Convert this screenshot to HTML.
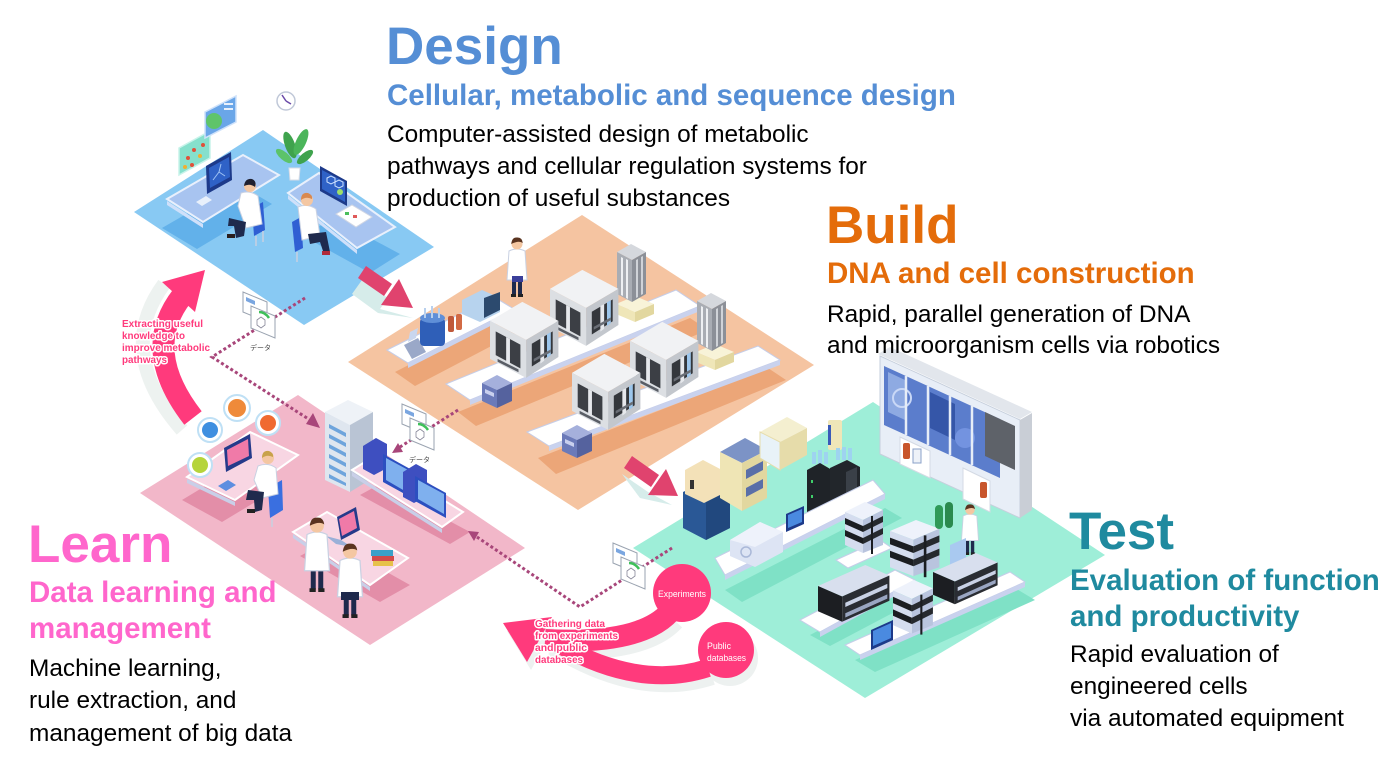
<!DOCTYPE html>
<html><head><meta charset="utf-8">
<style>
html,body{margin:0;padding:0;background:#fff;}
svg{display:block;}
text{font-family:"Liberation Sans",Arial,"Noto Sans CJK JP",sans-serif;}
.lbl{font-weight:bold;fill:#ff3a7c;stroke:#fff;stroke-width:3px;paint-order:stroke;stroke-linejoin:round;}
</style></head><body>
<svg width="1400" height="769" viewBox="0 0 1400 769" xmlns="http://www.w3.org/2000/svg">
<defs>
 <g id="robot">
  <polygon points="0,22 34,2 72,22 38,42" fill="#f1f2f4"/>
  <polygon points="0,22 38,42 38,82 0,62" fill="#dcdfe3"/>
  <polygon points="38,42 72,22 72,60 38,82" fill="#c3c7cd"/>
  <polygon points="6,33 32,47 32,72 6,58" fill="#3c3f45"/>
  <polygon points="44,46 66,33 66,56 44,70" fill="#34373c"/>
  <polygon points="17,39 21,41 21,68 17,66" fill="#e6e8ec"/>
  <polygon points="53,40 57,38 57,64 53,67" fill="#e6e8ec"/>
  <polygon points="60,36 64,34 64,58 60,61" fill="#9cc6ec"/>
  <polygon points="8,62 30,73 30,76 8,65" fill="#5a5e66"/>
  <polygon points="46,62 64,52 64,55 46,65" fill="#6a6e76"/>
 </g>
 <g id="tower">
  <polygon points="0,8 14,0 29,8 15,16" fill="#d5d8dd"/>
  <polygon points="0,8 15,16 15,58 0,50" fill="#a9adb4"/>
  <polygon points="15,16 29,8 29,50 15,58" fill="#8c9098"/>
  <polygon points="4,13 6,14 6,52 4,51" fill="#eef0f3"/>
  <polygon points="9,15 11,16 11,55 9,54" fill="#eef0f3"/>
  <polygon points="19,16 21,15 21,53 19,54" fill="#d0d3d8"/>
  <polygon points="24,13 26,12 26,50 24,51" fill="#d0d3d8"/>
 </g>
 <g id="cream">
  <polygon points="0,8 19,0 38,8 19,16" fill="#f8f3d8"/>
  <polygon points="0,8 19,16 19,26 0,18" fill="#efe6b8"/>
  <polygon points="19,16 38,8 38,18 19,26" fill="#e2d79f"/>
 </g>
 <g id="bbox">
  <polygon points="0,8 15,0 30,8 15,15" fill="#a5b0dc"/>
  <polygon points="0,8 15,15 15,33 0,26" fill="#6b7ab9"/>
  <polygon points="15,15 30,8 30,26 15,33" fill="#55629e"/>
  <polygon points="3,14 12,18 12,22 3,18" fill="#c9d0ee"/>
 </g>
 <g id="person">
  <rect x="-5" y="40" width="4" height="18" fill="#1f2a4d"/>
  <rect x="1" y="40" width="4" height="18" fill="#1f2a4d"/>
  <rect x="-6" y="57" width="5" height="3" fill="#222"/>
  <rect x="1" y="57" width="5" height="3" fill="#222"/>
  <path d="M-8,14 Q0,10 8,14 L10,43 L-10,43 Z" fill="#fff" stroke="#c9d1e2" stroke-width="1"/>
  <circle cx="0" cy="7" r="5.5" fill="#f4c7a2"/>
  <path d="M-5.8,7 Q-5,0 0,0.5 Q5,0 5.8,6 Q2,3 -5.8,7Z" fill="#5a3420"/>
 </g>
 <g id="doc">
  <polygon points="0,0 24,10 24,30 0,20" fill="#fff" stroke="#9aa3b0" stroke-width="1"/>
  <polygon points="3,5 12,9 12,13 3,9" fill="#7aa6e0"/>
  <polygon points="8,14 32,24 32,46 8,36" fill="#fff" stroke="#9aa3b0" stroke-width="1"/>
  <path d="M16,20 Q22,20 26,26" stroke="#3fbf5a" stroke-width="2.5" fill="none"/>
  <path d="M14,28 l4,-3 l4,3 l0,5 l-4,3 l-4,-3 z" stroke="#889" stroke-width="0.8" fill="none"/>
 </g>
 <g id="instr">
  <polygon points="0,10 20,0 38,8 18,18" fill="#eef2fb"/>
  <polygon points="0,10 18,18 18,51 0,43" fill="#d5ddef"/>
  <polygon points="18,18 38,8 38,43 18,51" fill="#b9c4de"/>
  <polygon points="0,16 18,24 18,30 0,22" fill="#1b1d21"/>
  <polygon points="0,28 18,36 18,42 0,34" fill="#1b1d21"/>
  <polygon points="18,24 38,14 38,20 18,30" fill="#26292e"/>
  <polygon points="18,36 38,26 38,32 18,42" fill="#26292e"/>
  <rect x="26" y="14" width="2" height="38" fill="#1b1d21"/>
 </g>
 <g id="hplc">
  <polygon points="0,20 45,0 68,10 23,30" fill="#d8dfee"/>
  <polygon points="0,20 23,30 23,54 0,44" fill="#1c1e22"/>
  <polygon points="23,30 68,10 68,34 23,54" fill="#2a2d33"/>
  <polygon points="26,36 66,18 66,22 26,40" fill="#c9d2e6"/>
  <polygon points="26,46 66,28 66,32 26,50" fill="#9aa6c2"/>
 </g>
</defs>

<!-- ================= BLUE (Design) PLATFORM ================= -->
<polygon points="134,212 263,130 434,247 304,325" fill="#88c9f3"/>
<polygon points="162,228 238,184 272,204 197,249" fill="#62b1ea"/>
<polygon points="303,236 333,218 400,254 370,273" fill="#62b1ea"/>
<polygon points="179,148 210,131 210,158 179,175" fill="#86e0cc" stroke="#c8f3ea" stroke-width="1.5"/>
<circle cx="188" cy="158" r="2" fill="#e0503a"/><circle cx="194" cy="150" r="2" fill="#e0503a"/>
<circle cx="200" cy="156" r="2" fill="#f0b030"/><circle cx="192" cy="165" r="2" fill="#e0503a"/>
<circle cx="203" cy="145" r="2" fill="#e0503a"/><circle cx="185" cy="167" r="2" fill="#f0b030"/>
<polygon points="205,112 236,96 236,122 205,138" fill="#6aa6e8" stroke="#cfe2fa" stroke-width="1.5"/>
<circle cx="214" cy="121" r="8" fill="#5fc46a"/>
<rect x="224" y="103" width="9" height="2" fill="#e8f0fb"/><rect x="224" y="108" width="9" height="2" fill="#e8f0fb"/>
<circle cx="286" cy="101" r="9" fill="#fff" stroke="#c0c8d8" stroke-width="1.5"/>
<path d="M286,101 L282,95 M286,101 L291,104" stroke="#6a4aa8" stroke-width="1.5"/>
<ellipse cx="290" cy="145" rx="5" ry="14" fill="#3fa34d" transform="rotate(-20 290 145)"/>
<ellipse cx="301" cy="142" rx="5" ry="14" fill="#4bb55a" transform="rotate(25 301 142)"/>
<ellipse cx="284" cy="156" rx="4" ry="10" fill="#5cc36a" transform="rotate(-50 284 156)"/>
<ellipse cx="305" cy="157" rx="4" ry="10" fill="#3fa34d" transform="rotate(50 305 157)"/>
<polygon points="289,168 300,168 299,180 290,180" fill="#fff" stroke="#d8dce6"/>
<polygon points="167,199 243,155 279,175 203,222" fill="#a8c4f0" stroke="#e9f0fc" stroke-width="2"/>
<polygon points="167,201 203,224 203,228 167,205" fill="#cfe0fa"/>
<polygon points="206,166 231,152 232,180 207,194" fill="#1d3a8a"/>
<polygon points="209,168 229,157 230,177 210,188" fill="#2f62c7"/>
<path d="M213,180 l6,-8 l6,4 M219,172 l2,-8" stroke="#9fc3f5" stroke-width="1" fill="none"/>
<polygon points="196,202 206,196 212,200 202,206" fill="#e8f0fb"/>
<polygon points="252,208 263,202 265,230 254,236" fill="#2f5fd3"/>
<line x1="256" y1="236" x2="256" y2="246" stroke="#c8d0e0" stroke-width="1.5"/>
<line x1="263" y1="231" x2="263" y2="242" stroke="#c8d0e0" stroke-width="1.5"/>
<path d="M241,193 Q250,190 258,196 L262,224 L246,228 L238,206 Z" fill="#fff" stroke="#c9d1e2"/>
<polygon points="229,218 246,222 244,236 236,238 234,226 228,226" fill="#1f2a4d"/>
<rect x="227" y="234" width="8" height="4" fill="#2a1e1e"/>
<circle cx="250" cy="186" r="6" fill="#f4c7a2"/>
<path d="M244,186 Q245,178 252,179 Q257,181 255,187 Q250,183 244,186Z" fill="#1f2030"/>
<polygon points="288,193 319,173 395,227 357,248" fill="#a8c4f0" stroke="#e9f0fc" stroke-width="2"/>
<polygon points="288,195 357,250 357,254 288,199" fill="#cfe0fa"/>
<polygon points="320,166 347,181 347,206 320,191" fill="#1d3a8a"/>
<polygon points="322,170 345,182 345,202 322,189" fill="#2f62c7"/>
<path d="M327,178 l4,-2 l4,2 l0,4 l-4,2 l-4,-2z M335,182 l4,-2 l4,2 l0,4 l-4,2 l-4,-2z" stroke="#cfe2ff" stroke-width="1" fill="none"/>
<circle cx="340" cy="192" r="3" fill="#9ddf6a"/>
<polygon points="336,214 352,205 372,217 356,227" fill="#fff" stroke="#d0d6e4"/>
<rect x="345" y="212" width="4" height="3" fill="#4cbf5c"/><rect x="353" y="215" width="4" height="3" fill="#e05a5a"/>
<polygon points="292,222 301,217 303,248 295,252" fill="#2f5fd3"/>
<line x1="297" y1="252" x2="297" y2="262" stroke="#c8d0e0" stroke-width="1.5"/>
<path d="M298,207 Q307,203 316,209 L320,236 L302,240 Z" fill="#fff" stroke="#c9d1e2"/>
<polygon points="308,234 326,232 330,252 324,254 320,242 310,244" fill="#1f2a4d"/>
<rect x="322" y="251" width="8" height="4" fill="#b02a3a"/>
<circle cx="307" cy="200" r="6" fill="#f4c7a2"/>
<path d="M301,200 Q301,192 308,193 Q313,195 312,199 Q306,196 301,200Z" fill="#d9894f"/>

<!-- ================= ORANGE (Build) PLATFORM ================= -->
<polygon points="348,362 582,215 814,365 578,510" fill="#f5c4a1"/>
<polygon points="395,372 500,318 522,330 415,386" fill="#eca678"/>
<polygon points="458,412 690,318 708,330 476,426" fill="#eca678"/>
<polygon points="538,458 768,368 786,380 556,474" fill="#eca678"/>
<polygon points="387,350 494,297 514,309 408,363" fill="#fff" stroke="#c5cde8"/>
<polygon points="408,363 514,309 514,314 408,368" fill="#c9d2ee"/>
<polygon points="404,345 418,338 426,352 412,359" fill="#9aa8c8"/>
<polygon points="408,342 416,338 418,328 410,332" fill="#c9d6ee"/>
<rect x="420" y="318" width="25" height="28" rx="4" fill="#2f5fb8"/>
<ellipse cx="432.5" cy="318" rx="12.5" ry="5" fill="#5f8fd8"/>
<rect x="424" y="308" width="2" height="10" fill="#b8d0ee"/><rect x="431" y="306" width="2" height="12" fill="#b8d0ee"/><rect x="438" y="308" width="2" height="10" fill="#b8d0ee"/>
<rect x="448" y="316" width="6" height="16" rx="2" fill="#c0593a"/>
<rect x="456" y="314" width="6" height="16" rx="2" fill="#d26a44"/>
<polygon points="462,300 482,290 500,298 500,312 480,322 462,314" fill="#b7d3ee"/>
<polygon points="484,298 500,292 500,310 484,318" fill="#2c4a6e"/>
<polygon points="446,384 676,290 700,306 470,400" fill="#fff" stroke="#c5cde8"/>
<polygon points="470,400 700,306 700,311 470,405" fill="#c9d2ee"/>
<use href="#cream" x="616" y="296"/>
<use href="#tower" x="617" y="244"/>
<use href="#robot" transform="translate(550,268) scale(0.95)"/>
<use href="#robot" transform="translate(490,300) scale(0.95)"/>
<use href="#bbox" x="482" y="375"/>
<use href="#person" transform="translate(517,237)"/>
<rect x="512" y="276" width="11" height="6" fill="#3a3f9a"/>
<polygon points="527,432 758,346 780,360 549,446" fill="#fff" stroke="#c5cde8"/>
<polygon points="549,446 780,360 780,365 549,451" fill="#c9d2ee"/>
<use href="#cream" x="696" y="344"/>
<use href="#tower" x="697" y="293"/>
<use href="#robot" transform="translate(630,320) scale(0.95)"/>
<use href="#robot" transform="translate(572,352) scale(0.95)"/>
<use href="#bbox" x="562" y="425"/>

<!-- ================= PINK (Learn) PLATFORM ================= -->
<polygon points="140,493 298,395 525,548 370,645" fill="#f2b7c9"/>
<polygon points="182,500 240,465 280,487 222,522" fill="#e38ea8"/>
<polygon points="360,495 380,484 470,532 450,544" fill="#e38ea8"/>
<polygon points="300,556 330,540 410,585 380,602" fill="#e38ea8"/>
<polygon points="187,477 250,432 298,455 235,500" fill="#f8d6e3" stroke="#fff" stroke-width="2"/>
<polygon points="187,479 235,502 235,506 187,483" fill="#c9cfe8"/>
<polygon points="224,448 250,434 252,458 226,472" fill="#253a8a"/>
<polygon points="227,450 248,439 249,456 228,466" fill="#f07aa8"/>
<polygon points="218,486 228,480 236,485 226,491" fill="#5d8ee0"/>
<polygon points="268,488 282,480 283,510 270,518" fill="#3a6fe0"/>
<line x1="272" y1="518" x2="272" y2="527" stroke="#c8d0e0" stroke-width="1.5"/>
<path d="M258,466 Q268,462 276,468 L278,494 L262,498 L254,480 Z" fill="#fff" stroke="#c9d1e2"/>
<polygon points="248,490 264,492 262,510 255,512 254,500 246,500" fill="#1f2a4d"/>
<rect x="247" y="509" width="8" height="4" fill="#222"/>
<circle cx="268" cy="458" r="6" fill="#f4c7a2"/>
<path d="M262,458 Q262,450 269,451 Q274,453 273,457 Q267,454 262,458Z" fill="#c8a24a"/>
<circle cx="210" cy="430" r="12" fill="#fff" stroke="#bfe0f5" stroke-width="2"/><circle cx="210" cy="430" r="8" fill="#3f8fe0"/>
<circle cx="237" cy="408" r="13" fill="#fff" stroke="#bfe0f5" stroke-width="2"/><circle cx="237" cy="408" r="9" fill="#ef8a3a"/>
<circle cx="268" cy="423" r="12" fill="#fff" stroke="#bfe0f5" stroke-width="2"/><circle cx="268" cy="423" r="8" fill="#f06a30"/>
<circle cx="200" cy="465" r="12" fill="#fff" stroke="#bfe0f5" stroke-width="2"/><circle cx="200" cy="465" r="8" fill="#b6d43a"/>
<polygon points="325,412 348,400 373,412 350,425" fill="#eef2f7"/>
<polygon points="325,412 350,425 350,492 325,480" fill="#dfe6ef"/>
<polygon points="350,425 373,412 373,478 350,492" fill="#b9c4d4"/>
<polygon points="329,424 346,433 346,437 329,428" fill="#6ea4dc"/>
<polygon points="329,434 346,443 346,447 329,438" fill="#6ea4dc"/>
<polygon points="329,444 346,453 346,457 329,448" fill="#6ea4dc"/>
<polygon points="329,454 346,463 346,467 329,458" fill="#6ea4dc"/>
<polygon points="329,464 346,473 346,477 329,468" fill="#6ea4dc"/>
<polygon points="329,474 346,483 346,486 329,478" fill="#6ea4dc"/>
<polygon points="352,470 373,457 463,512 442,527" fill="#f8d6e3" stroke="#fff" stroke-width="2"/>
<polygon points="352,472 442,529 442,533 352,476" fill="#c9cfe8"/>
<polygon points="363,446 376,438 387,444 387,468 374,475 363,469" fill="#3e4fc0"/>
<polygon points="383,454 412,470 412,498 383,482" fill="#2c4fc0"/>
<polygon points="386,458 410,471 410,494 386,480" fill="#7fb0ee"/>
<polygon points="403,472 416,464 427,470 427,496 414,503 403,497" fill="#3e4fc0"/>
<polygon points="415,476 446,493 446,518 415,501" fill="#2c4fc0"/>
<polygon points="418,480 444,494 444,514 418,499" fill="#7fb0ee"/>
<polygon points="293,532 327,512 408,558 370,585" fill="#f8d6e3" stroke="#fff" stroke-width="2"/>
<polygon points="293,534 370,587 370,591 293,538" fill="#c9cfe8"/>
<polygon points="337,517 356,507 360,530 341,540" fill="#253a8a"/>
<polygon points="339,519 354,511 357,528 342,536" fill="#f07aa8"/>
<polygon points="326,536 341,540 352,547 336,544" fill="#9ab0d8"/>
<rect x="372" y="556" width="22" height="5" fill="#d24a4a"/>
<rect x="371" y="550" width="22" height="6" fill="#3aa0c8"/>
<rect x="373" y="561" width="20" height="5" fill="#e6c14a"/>
<use href="#person" transform="translate(317,517) scale(1.25)"/>
<use href="#person" transform="translate(350,543) scale(1.25)"/>
<rect x="341" y="592" width="18" height="8" fill="#1f2a4d"/>

<!-- ================= TEAL (Test) PLATFORM ================= -->
<polygon points="633,548 873,402 1105,555 865,698" fill="#9eeed8"/>
<polygon points="725,590 885,508 902,518 742,602" fill="#7fe1c6"/>
<polygon points="810,635 905,585 925,596 830,646" fill="#7fe1c6"/>
<polygon points="855,660 1015,588 1035,600 875,672" fill="#7fe1c6"/>
<polygon points="878,354 890,347 1032,412 1020,419" fill="#e2e6ec"/>
<polygon points="880,356 1020,420 1020,518 880,454" fill="#e8eef7" stroke="#c6cfdc"/>
<polygon points="1020,420 1032,413 1032,510 1020,518" fill="#c9ced6"/>
<polygon points="884,366 1000,419 1000,478 884,425" fill="#5b7dcc"/>
<polygon points="888,372 905,380 905,420 888,412" fill="#8eaae2"/>
<circle cx="902" cy="398" r="9" fill="none" stroke="#c9d8f6" stroke-width="2"/>
<polygon points="930,392 955,404 955,440 930,428" fill="#3556a8"/>
<circle cx="965" cy="438" r="10" fill="#7393e0"/>
<polygon points="985,412 1015,426 1015,470 985,456" fill="#5e6269"/>
<line x1="906" y1="376" x2="906" y2="435" stroke="#e6edf7" stroke-width="2.5"/>
<line x1="928" y1="386" x2="928" y2="445" stroke="#e6edf7" stroke-width="2.5"/>
<line x1="950" y1="396" x2="950" y2="455" stroke="#e6edf7" stroke-width="2.5"/>
<line x1="972" y1="406" x2="972" y2="465" stroke="#e6edf7" stroke-width="2.5"/>
<polygon points="900,437 930,451 930,478 900,464" fill="#fff" stroke="#d4dae4"/>
<rect x="903" y="443" width="7" height="16" rx="2" fill="#c8552b"/>
<rect x="913" y="449" width="8" height="14" fill="#eef2f8" stroke="#8aa0c8"/>
<polygon points="963,468 990,481 990,512 963,499" fill="#fff" stroke="#d4dae4"/>
<rect x="980" y="482" width="7" height="16" rx="2" fill="#c8552b"/>
<polygon points="683,492 706,481 730,492 730,528 706,540 683,528" fill="#2a5896"/>
<polygon points="706,481 730,492 730,528 706,540" fill="#21487e"/>
<polygon points="685,470 703,460 722,470 722,494 704,503 685,494" fill="#f3e1b8"/>
<rect x="690" y="480" width="4" height="9" fill="#333"/>
<polygon points="720,452 745,438 767,450 742,463" fill="#7c93c6"/>
<polygon points="720,452 742,463 742,511 720,498" fill="#efe5b5"/>
<polygon points="742,463 767,450 767,498 742,511" fill="#e2d79f"/>
<polygon points="746,470 763,461 763,470 746,479" fill="#5a6fa8"/>
<polygon points="746,488 763,479 763,488 746,497" fill="#5a6fa8"/>
<polygon points="760,432 787,417 807,428 780,442" fill="#f4efd0"/>
<polygon points="760,432 780,442 780,470 760,458" fill="#e8f2f8" stroke="#e6dcaa"/>
<polygon points="780,442 807,428 807,455 780,470" fill="#e6dcaa"/>
<rect x="828" y="420" width="14" height="30" rx="2" fill="#efe6b8"/>
<rect x="828" y="425" width="3" height="20" fill="#3a5ab8"/>
<rect x="812" y="452" width="4" height="12" fill="#9ed3f0"/><rect x="818" y="450" width="4" height="14" fill="#9ed3f0"/><rect x="824" y="452" width="4" height="12" fill="#9ed3f0"/>
<polygon points="807,470 820,463 832,470 832,516 820,523 807,516" fill="#1f2328"/>
<rect x="811" y="480" width="2" height="3" fill="#3fcf6a"/><rect x="811" y="495" width="2" height="3" fill="#3fcf6a"/>
<rect x="836" y="448" width="4" height="12" fill="#9ed3f0"/><rect x="842" y="447" width="4" height="13" fill="#9ed3f0"/><rect x="848" y="448" width="4" height="12" fill="#9ed3f0"/>
<polygon points="830,468 847,460 860,467 860,500 845,507 830,500" fill="#22262b"/>
<polygon points="846,472 857,467 857,490 846,496" fill="#3a4048"/>
<polygon points="715,558 873,480 885,494 725,575" fill="#fff" stroke="#c5cde8"/>
<polygon points="725,575 885,494 885,499 725,580" fill="#c9d2ee"/>
<polygon points="730,540 760,522 783,532 783,552 755,567 730,556" fill="#dde4f4"/>
<polygon points="730,540 760,522 783,532 755,547" fill="#eef2fb"/>
<circle cx="746" cy="552" r="5" fill="none" stroke="#aab8d8" stroke-width="1.5"/>
<polygon points="786,514 804,506 804,524 786,532" fill="#1d3a8a"/>
<polygon points="788,515 802,509 802,522 788,528" fill="#4a8ae0"/>
<polygon points="836,560 880,540 892,548 848,568" fill="#fff" stroke="#c5cde8"/>
<use href="#instr" x="845" y="502"/>
<polygon points="800,620 895,570 915,580 820,632" fill="#fff" stroke="#c5cde8"/>
<polygon points="820,632 915,580 915,585 820,637" fill="#c9d2ee"/>
<use href="#instr" transform="translate(890,520) scale(1.3,1.1)"/>
<use href="#hplc" transform="translate(818,565) scale(1.05)"/>
<polygon points="845,645 1010,572 1025,582 860,655" fill="#fff" stroke="#c5cde8"/>
<polygon points="860,655 1025,582 1025,587 860,660" fill="#c9d2ee"/>
<rect x="935" y="505" width="8" height="24" rx="4" fill="#2f9a58"/>
<rect x="945" y="502" width="8" height="26" rx="4" fill="#2a8a4e"/>
<use href="#person" transform="translate(970,504) scale(0.85)"/>
<polygon points="950,545 966,538 966,560 950,567" fill="#a9c9f0"/>
<use href="#hplc" transform="translate(933,553) scale(0.95)"/>
<use href="#instr" transform="translate(893,580) scale(1.05)"/>
<polygon points="871,630 893,620 893,640 871,650" fill="#1d3a8a"/>
<polygon points="873,631 891,623 891,638 873,646" fill="#4a8ae0"/>

<!-- ================= straight arrows ================= -->
<polygon points="362,280 388,298 380,309 413,318 378,313 352,294" fill="#d6ecea"/>
<polygon points="366,266 392,284 384,296 358,278" fill="#e0436e"/>
<polygon points="399,279 381,305 413,308" fill="#e0436e"/>
<polygon points="622,474 648,492 672,505 640,498" fill="#d6ecea"/>
<polygon points="632,456 659,475 651,487 624,468" fill="#e0436e"/>
<polygon points="666,469 648,495 678,496" fill="#e0436e"/>

<!-- ================= dotted connectors ================= -->
<g stroke="#a8467a" stroke-width="3" stroke-dasharray="3 2.5" fill="none">
 <polyline points="305,298 212,357 310,420"/>
 <polyline points="458,410 400,447"/>
 <polyline points="672,548 580,607 477,537"/>
</g>
<polygon points="320,428 306,424 313,413" fill="#a8467a"/>
<polygon points="392,453 403,452 398,443" fill="#a8467a"/>
<polygon points="468,531 479,532 474,541" fill="#a8467a"/>
<use href="#doc" x="243" y="292"/>
<text x="250" y="350" font-size="7" fill="#444">データ</text>
<use href="#doc" x="402" y="404"/>
<text x="409" y="462" font-size="7" fill="#444">データ</text>
<use href="#doc" x="613" y="543"/>

<!-- ================= curved arrows ================= -->
<path d="M182,430 Q114,352 164,284" stroke="#edf2f0" stroke-width="14" fill="none"/>
<path d="M193,418 Q140,350 182,296" stroke="#ff3a7c" stroke-width="22" fill="none"/>
<polygon points="205,270 162,282 195,312" fill="#ff3a7c"/>

<g transform="translate(4,8)" fill="#edf1f0" stroke="#edf1f0">
 <path d="M670,612 Q640,645 545,640" stroke-width="22" fill="none"/>
 <path d="M708,668 Q640,690 560,645" stroke-width="18" fill="none"/>
 <circle cx="726" cy="650" r="28" stroke="none"/>
 <polygon points="503,623 552,617 527,662" stroke="none"/>
</g>
<g fill="#ff3a7c" stroke="#ff3a7c">
 <path d="M670,612 Q640,645 545,640" stroke-width="22" fill="none"/>
 <path d="M708,668 Q640,690 560,645" stroke-width="18" fill="none"/>
 <circle cx="682" cy="593" r="29" stroke="none"/>
 <circle cx="726" cy="650" r="28" stroke="none"/>
 <polygon points="503,623 552,617 527,662" stroke="none"/>
</g>
<text x="682" y="597" font-size="9" fill="#fff" text-anchor="middle" textLength="48" lengthAdjust="spacingAndGlyphs">Experiments</text>
<text x="707" y="649" font-size="9" fill="#fff" textLength="24" lengthAdjust="spacingAndGlyphs">Public</text>
<text x="707" y="661" font-size="9" fill="#fff" textLength="39" lengthAdjust="spacingAndGlyphs">databases</text>

<text class="lbl" x="535" y="627" font-size="10.5" textLength="70" lengthAdjust="spacingAndGlyphs">Gathering data</text>
<text class="lbl" x="535" y="639" font-size="10.5" textLength="83" lengthAdjust="spacingAndGlyphs">from experiments</text>
<text class="lbl" x="535" y="651" font-size="10.5" textLength="52" lengthAdjust="spacingAndGlyphs">and public</text>
<text class="lbl" x="535" y="663" font-size="10.5" textLength="48" lengthAdjust="spacingAndGlyphs">databases</text>

<text class="lbl" x="122" y="327" font-size="10.5" textLength="81" lengthAdjust="spacingAndGlyphs">Extracting useful</text>
<text class="lbl" x="122" y="339" font-size="10.5" textLength="63" lengthAdjust="spacingAndGlyphs">knowledge to</text>
<text class="lbl" x="122" y="351" font-size="10.5" textLength="88" lengthAdjust="spacingAndGlyphs">improve metabolic</text>
<text class="lbl" x="122" y="363" font-size="10.5" textLength="45" lengthAdjust="spacingAndGlyphs">pathways</text>

<!-- ================= TEXT BLOCKS ================= -->
<g fill="#558ed5" font-weight="bold">
 <text x="386" y="64" font-size="53">Design</text>
 <text x="387" y="105" font-size="29.5">Cellular, metabolic and sequence design</text>
</g>
<g fill="#000" font-size="24.4">
 <text x="387" y="142">Computer-assisted design of metabolic</text>
 <text x="387" y="174">pathways and cellular regulation systems for</text>
 <text x="387" y="206">production of useful substances</text>
</g>

<g fill="#e46c0a" font-weight="bold">
 <text x="826" y="243" font-size="53">Build</text>
 <text x="827" y="283" font-size="29.5">DNA and cell construction</text>
</g>
<g fill="#000" font-size="24.4">
 <text x="827" y="322">Rapid, parallel generation of DNA</text>
 <text x="827" y="353">and microorganism cells via robotics</text>
</g>

<g fill="#1f8a9f" font-weight="bold">
 <text x="1069" y="549" font-size="53">Test</text>
 <text x="1070" y="590" font-size="29.5">Evaluation of function</text>
 <text x="1070" y="626" font-size="29.5">and productivity</text>
</g>
<g fill="#000" font-size="24.4">
 <text x="1070" y="662">Rapid evaluation of</text>
 <text x="1070" y="694">engineered cells</text>
 <text x="1070" y="726">via automated equipment</text>
</g>

<g fill="#ff66cc" font-weight="bold">
 <text x="28" y="562" font-size="53">Learn</text>
 <text x="29" y="602" font-size="29.5">Data learning and</text>
 <text x="29" y="638" font-size="29.5">management</text>
</g>
<g fill="#000" font-size="24.4">
 <text x="29" y="676">Machine learning,</text>
 <text x="29" y="708">rule extraction, and</text>
 <text x="29" y="741">management of big data</text>
</g>
</svg>
</body></html>
